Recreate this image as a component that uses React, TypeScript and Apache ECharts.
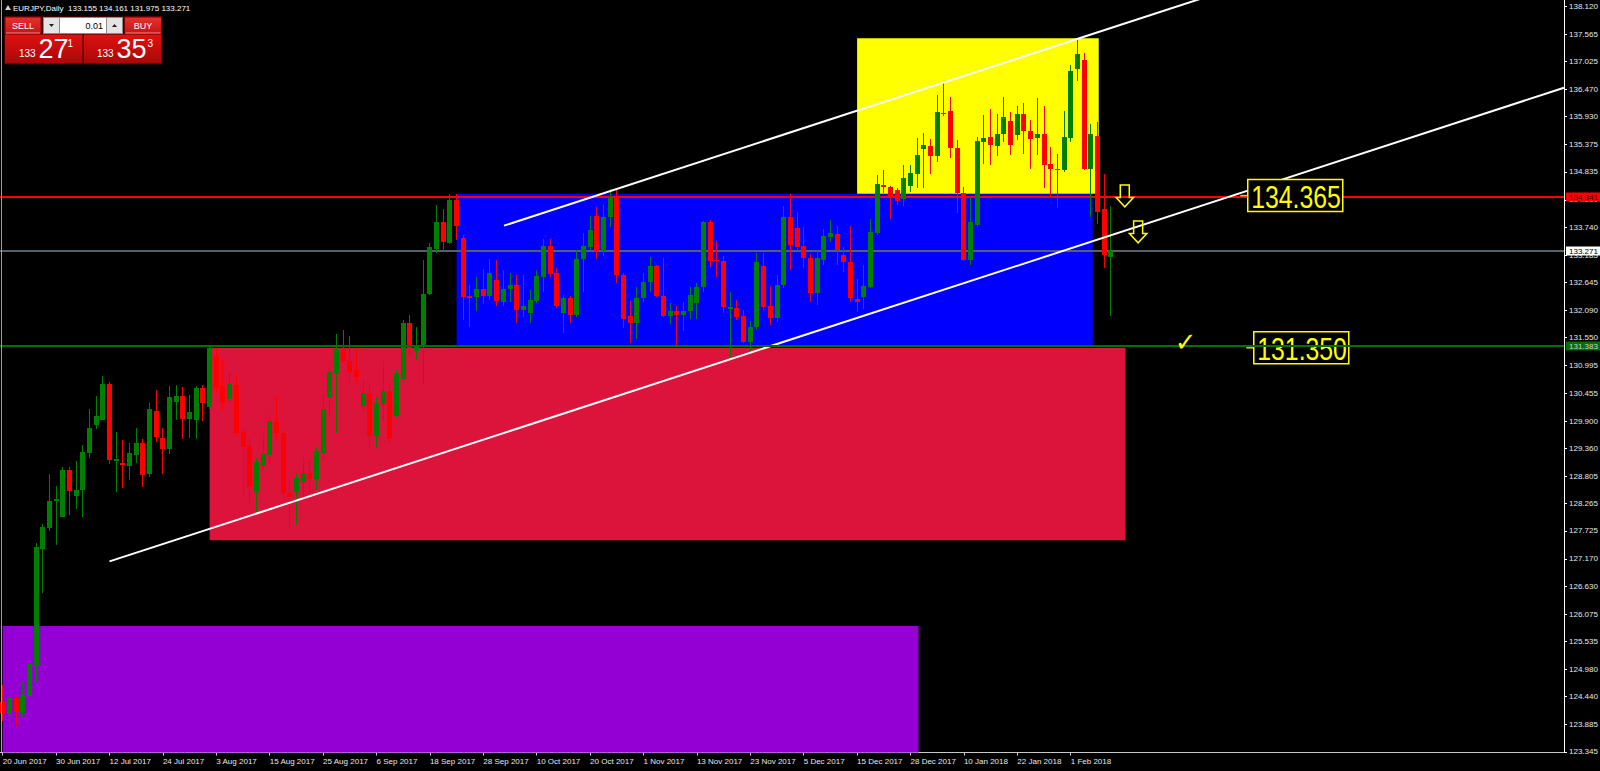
import React, { useEffect, useRef } from "react";
import * as echarts from "echarts";

// ---- instrument -----------------------------------------------------------
const SYMBOL = "EURJPY,Daily";
const ASK = 133.353;
const LOT = "0.01";

// ---- daily bars, index 0 = 20 Jun 2017 … index 166 = 9 Feb 2018 ----------
const OPEN = [
  124.34, 124.09, 124.41, 124.12, 124.45, 125.07, 127.36, 127.78, 128.32, 127.99,
  128.93, 128.42, 128.53, 129.26, 129.82, 129.93, 130.63, 129.10, 129.06, 129.01,
  129.23, 129.46, 128.86, 130.10, 129.57, 129.34, 130.28, 130.40, 129.95, 129.93,
  130.55, 130.17, 131.19, 130.59, 130.33, 130.61, 129.69, 129.41, 128.50, 129.00,
  129.23, 129.89, 129.67, 128.48, 128.50, 128.70, 128.88, 128.75, 129.26, 130.38,
  130.85, 131.33, 131.09, 130.92, 130.19, 130.45, 129.60, 130.24, 130.50, 129.99,
  130.73, 131.84, 131.29, 131.36, 132.41, 133.31, 133.85, 133.42, 134.28, 133.53,
  132.38, 132.35, 132.51, 132.38, 132.69, 132.26, 132.51, 132.59, 132.09, 132.03,
  132.28, 132.75, 133.37, 132.83, 132.03, 132.34, 132.00, 133.10, 133.34, 133.97,
  133.27, 133.94, 134.34, 132.79, 131.99, 131.85, 132.33, 132.65, 132.97, 132.38,
  131.99, 132.08, 132.00, 132.07, 132.24, 132.55, 133.84, 133.09, 133.07, 132.11,
  132.13, 131.98, 131.47, 131.77, 132.98, 132.17, 131.95, 132.60, 133.95, 133.72,
  133.37, 133.12, 132.43, 133.09, 133.55, 133.60, 133.19, 133.04, 132.32, 132.36,
  132.56, 133.62, 134.58, 134.54, 134.48, 134.30, 134.56, 134.79, 135.28, 135.35,
  135.14, 136.01, 136.04, 135.30, 134.41, 133.09, 133.78, 135.42, 135.53, 135.35,
  135.58, 135.85, 135.57, 135.98, 135.65, 135.50, 135.59, 135.00, 134.90, 134.87,
  135.50, 136.87, 137.05, 134.89, 135.55, 134.09, 133.155,
];
const HIGH = [
  124.67, 124.45, 124.45, 124.74, 125.17, 127.49, 127.87, 128.85, 128.61, 128.98,
  128.98, 129.10, 129.43, 130.13, 130.40, 130.79, 130.68, 129.68, 129.53, 129.47,
  129.76, 129.54, 130.26, 130.52, 129.77, 130.59, 130.61, 130.58, 130.42, 130.59,
  130.61, 131.37, 131.34, 131.11, 130.88, 130.81, 129.74, 129.56, 129.16, 129.66,
  130.03, 130.40, 129.69, 128.77, 128.88, 129.19, 129.13, 129.39, 130.45, 130.98,
  131.62, 131.70, 131.59, 131.34, 130.73, 130.63, 130.38, 131.09, 130.66, 130.91,
  131.90, 132.01, 131.76, 133.09, 133.42, 134.18, 134.09, 134.40, 134.40, 133.59,
  132.59, 132.76, 132.91, 133.10, 133.09, 132.89, 132.84, 132.79, 132.79, 132.50,
  132.89, 133.50, 133.50, 132.94, 132.40, 132.38, 133.29, 133.62, 133.96, 134.13,
  134.18, 134.49, 134.48, 132.84, 132.28, 132.56, 132.84, 133.14, 133.00, 133.12,
  132.23, 132.18, 132.26, 132.56, 132.64, 133.86, 133.88, 133.47, 133.17, 132.46,
  132.30, 132.10, 131.89, 133.22, 133.22, 132.58, 132.79, 134.15, 134.39, 134.05,
  133.75, 133.20, 133.26, 133.70, 133.88, 133.76, 133.35, 133.76, 132.71, 133.00,
  133.90, 134.77, 134.87, 134.56, 134.51, 134.97, 134.97, 135.50, 135.61, 135.49,
  136.36, 136.62, 136.31, 135.47, 134.54, 134.32, 135.53, 135.96, 136.09, 135.98,
  136.31, 136.03, 136.14, 136.19, 135.86, 136.29, 136.13, 135.32, 135.19, 136.04,
  136.95, 137.49, 137.18, 135.78, 135.83, 134.79, 134.161,
];
const LOW = [
  123.95, 123.68, 123.85, 124.03, 124.41, 124.74, 126.49, 127.73, 127.45, 127.99,
  128.04, 128.15, 127.99, 129.16, 129.74, 129.93, 129.05, 128.50, 128.58, 128.73,
  129.06, 128.59, 128.79, 129.49, 128.86, 129.25, 129.92, 129.54, 129.56, 129.54,
  129.90, 130.13, 130.46, 130.11, 130.28, 129.60, 128.44, 128.24, 128.07, 128.93,
  129.06, 129.53, 128.37, 127.78, 127.84, 128.34, 128.47, 128.53, 129.12, 129.97,
  129.66, 131.05, 130.68, 130.68, 130.09, 129.39, 129.36, 129.91, 129.46, 129.97,
  130.66, 131.21, 131.10, 130.61, 132.40, 133.22, 133.26, 133.40, 133.49, 131.91,
  131.76, 132.07, 132.24, 132.30, 132.17, 132.17, 132.25, 131.84, 131.97, 131.85,
  132.23, 132.45, 132.76, 132.13, 131.65, 131.84, 131.97, 132.46, 133.29, 133.10,
  133.17, 133.75, 132.64, 131.74, 131.44, 131.52, 132.26, 132.46, 132.36, 131.97,
  131.82, 131.41, 131.69, 131.93, 131.93, 132.46, 132.96, 132.75, 132.03, 131.14,
  131.90, 131.44, 131.27, 131.70, 132.09, 131.80, 131.86, 132.53, 132.89, 133.26,
  132.93, 132.25, 132.20, 133.00, 133.45, 132.99, 132.85, 132.25, 132.05, 132.12,
  132.53, 133.59, 134.41, 133.90, 134.18, 134.16, 134.44, 134.51, 134.52, 134.79,
  135.04, 135.95, 135.10, 134.03, 133.06, 133.00, 133.75, 135.00, 134.97, 135.14,
  135.43, 135.17, 135.47, 135.18, 134.89, 135.17, 134.51, 134.31, 134.11, 134.84,
  135.42, 136.64, 134.87, 133.95, 133.80, 132.94, 131.975,
];
const CLOSE = [
  124.11, 124.41, 124.14, 124.47, 125.09, 127.40, 127.80, 128.32, 128.36, 128.93,
  128.52, 128.53, 129.29, 129.77, 130.00, 130.63, 129.12, 129.14, 129.02, 129.27,
  129.46, 128.83, 130.13, 129.59, 129.34, 130.38, 130.40, 129.95, 130.07, 130.55,
  130.25, 131.34, 130.56, 130.26, 130.63, 129.66, 129.39, 128.60, 129.08, 129.24,
  129.90, 129.66, 128.47, 128.40, 128.78, 128.88, 128.75, 129.31, 130.13, 130.88,
  131.33, 131.08, 130.88, 130.78, 130.45, 129.60, 130.25, 130.50, 129.54, 130.86,
  131.84, 131.34, 131.37, 132.41, 133.35, 133.84, 133.45, 134.28, 133.76, 132.35,
  132.34, 132.51, 132.38, 132.83, 132.28, 132.51, 132.59, 132.09, 132.18, 132.30,
  132.77, 133.37, 132.81, 132.17, 132.33, 132.00, 133.10, 133.37, 133.68, 133.27,
  133.94, 134.34, 132.79, 131.92, 131.85, 132.33, 132.66, 132.97, 132.38, 131.99,
  132.08, 132.00, 132.08, 132.40, 132.56, 133.84, 133.07, 133.06, 132.15, 132.15,
  131.97, 131.47, 131.77, 133.04, 132.15, 131.95, 132.60, 133.95, 133.39, 133.35,
  133.12, 132.44, 133.12, 133.57, 133.62, 133.29, 133.04, 132.34, 132.26, 132.58,
  133.64, 134.59, 134.54, 134.32, 134.25, 134.71, 134.81, 135.16, 135.37, 135.14,
  136.03, 135.98, 135.30, 134.41, 133.09, 133.85, 135.45, 135.50, 135.37, 135.58,
  135.92, 135.37, 135.98, 135.65, 135.49, 135.59, 134.97, 134.89, 134.88, 135.52,
  136.83, 137.16, 134.89, 135.58, 134.05, 133.18, 133.271,
];

// ---- axes -----------------------------------------------------------------
const DATE_TICKS = [0, 8, 16, 24, 32, 40, 48, 56, 64, 72, 80, 88, 96, 104, 112, 120, 128, 136, 144, 152, 160];
const DATE_LABELS = [
  "20 Jun 2017", "30 Jun 2017", "12 Jul 2017", "24 Jul 2017", "3 Aug 2017", "15 Aug 2017",
  "25 Aug 2017", "6 Sep 2017", "18 Sep 2017", "28 Sep 2017", "10 Oct 2017", "20 Oct 2017",
  "1 Nov 2017", "13 Nov 2017", "23 Nov 2017", "5 Dec 2017", "15 Dec 2017", "28 Dec 2017",
  "10 Jan 2018", "22 Jan 2018", "1 Feb 2018",
];
const PRICE_TICKS = [
  138.12, 137.565, 137.025, 136.47, 135.93, 135.375, 134.835, 134.28, 133.74, 133.185,
  132.645, 132.09, 131.55, 130.995, 130.455, 129.9, 129.36, 128.805, 128.265, 127.725,
  127.17, 126.63, 126.075, 125.535, 124.98, 124.44, 123.885, 123.345,
];

// visible window (bars / price)
const X_MIN = -0.405;
const X_MAX = 233.9;
const Y_MIN = 123.333;
const Y_MAX = 138.239;

// ---- drawn objects ----------------------------------------------------------
const ZONE_COLOR = ["#9400d3", "#dc143c", "#0000ff", "#ffff00"];
const ZONE_FROM = [0, 31, 68, 128];
const ZONE_TO = [137.2, 168.2, 163.3, 164.2];
const ZONE_LOW = [120.0, 127.54, 131.4, 134.4];
const ZONE_HIGH = [125.84, 131.35, 134.4, 137.48];

const LOWER_TREND = [[16, 127.12], [160, 133.32]];
const UPPER_TREND = [[75.1, 133.77], [161.5, 137.49]];

const RESISTANCE = 134.341;
const SUPPORT = 131.383;

const LEVEL_TAGS = [[185.4, 134.365], [186.3, 131.35]];
const DOWN_ARROWS = [[168.1, 134.575], [170.1, 133.862]];
const CHECK_MARK = [[177.2, 131.47]];

const BULL = "#008000";
const BEAR = "#ff0000";
const AXIS_TEXT = "#e8e8e8";
const FONT = "Liberation Sans";

const BID = CLOSE[CLOSE.length - 1];

function ray(a: number[], b: number[], xEnd: number) {
  const k = (b[1] - a[1]) / (b[0] - a[0]);
  return [a, [xEnd, a[1] + k * (xEnd - a[0])]];
}

function splitQuote(v: number) {
  const s = v.toFixed(3);
  const [big, frac] = s.split(".");
  return { big, mid: frac.slice(0, 2), pip: frac.slice(2) };
}

// full-width horizontal price line with its price box on the right scale
function priceLineSeries(prices: number[], lines: string[], boxes: string[], texts: string[], z: number) {
  return {
    type: "custom",
    z,
    silent: true,
    data: prices.map((p) => [0, p]),
    renderItem: (params: any, api: any) => {
      const cs = params.coordSys;
      const v = api.value(1) as number;
      const y = Math.round(api.coord([0, v])[1]);
      const k = params.dataIndex;
      const right = cs.x + cs.width;
      return {
        type: "group",
        children: [
          { type: "line", shape: { x1: cs.x, y1: y, x2: right, y2: y }, style: { stroke: lines[k], lineWidth: 2 } },
          { type: "rect", shape: { x: right + 2, y: y - 4.5, width: 34, height: 9 }, style: { fill: boxes[k] } },
          {
            type: "text",
            x: right + 5,
            y: y,
            style: { text: v.toFixed(3), fill: texts[k], fontSize: 8, fontFamily: FONT, verticalAlign: "middle", align: "left" },
          },
        ],
      };
    },
  };
}

function buildOption() {
  const candles = OPEN.map((o, i) => [i, o, CLOSE[i], LOW[i], HIGH[i]]);
  const zones = ZONE_FROM.map((f, k) => [f, ZONE_TO[k], ZONE_LOW[k], ZONE_HIGH[k]]);
  const last = OPEN.length - 1;
  const title = `${SYMBOL}  ${OPEN[last].toFixed(3)} ${HIGH[last].toFixed(3)} ${LOW[last].toFixed(3)} ${CLOSE[last].toFixed(3)}`;
  const bid = splitQuote(BID);
  const ask = splitQuote(ASK);

  const btnGrad = () =>
    new echarts.graphic.LinearGradient(0, 0, 0, 1, [
      { offset: 0, color: "#e83030" },
      { offset: 1, color: "#c41414" },
    ]);
  const quoteGrad = () =>
    new echarts.graphic.LinearGradient(0, 0, 0, 1, [
      { offset: 0, color: "#e01010" },
      { offset: 1, color: "#a80808" },
    ]);
  const white = (text: string, x: number, y: number, size: number, align = "left") => ({
    type: "text",
    x,
    y,
    z: 101,
    style: { text, fill: "#ffffff", fontSize: size, fontFamily: FONT, align, verticalAlign: "middle" },
  });

  const graphic: any[] = [
    { type: "line", z: 50, shape: { x1: 1.5, y1: 0, x2: 1.5, y2: 752 }, style: { stroke: "#a0a0a0", lineWidth: 1 } },
    { type: "polygon", z: 100, shape: { points: [[5, 10], [8, 5], [11, 10]] }, style: { fill: "#d0d0d0" } },
    white(title, 13, 8.5, 8),
    // one-click trading panel
    { type: "rect", z: 100, shape: { x: 4, y: 16, width: 158.5, height: 48.5 }, style: { fill: "#3a0000" } },
    { type: "rect", z: 100, shape: { x: 5, y: 17, width: 36, height: 17 }, style: { fill: btnGrad(), stroke: "#7a0000", lineWidth: 1 } },
    { type: "line", z: 101, shape: { x1: 6, y1: 33, x2: 40, y2: 33 }, style: { stroke: "#f08a8a", lineWidth: 1 } },
    white("SELL", 23, 25.5, 9, "center"),
    { type: "rect", z: 100, shape: { x: 124.5, y: 17, width: 37, height: 17 }, style: { fill: btnGrad(), stroke: "#7a0000", lineWidth: 1 } },
    { type: "line", z: 101, shape: { x1: 125.5, y1: 33, x2: 160.5, y2: 33 }, style: { stroke: "#f08a8a", lineWidth: 1 } },
    white("BUY", 143, 25.5, 9, "center"),
    { type: "rect", z: 100, shape: { x: 43.5, y: 17.5, width: 79, height: 16 }, style: { fill: "#ffffff", stroke: "#8a8a8a", lineWidth: 1 } },
    { type: "rect", z: 101, shape: { x: 43.5, y: 17.5, width: 16, height: 16 }, style: { fill: "#e4e4e4", stroke: "#8a8a8a", lineWidth: 1 } },
    { type: "rect", z: 101, shape: { x: 106.5, y: 17.5, width: 16, height: 16 }, style: { fill: "#e4e4e4", stroke: "#8a8a8a", lineWidth: 1 } },
    { type: "polygon", z: 102, shape: { points: [[49, 24], [54, 24], [51.5, 27]] }, style: { fill: "#202020" } },
    { type: "polygon", z: 102, shape: { points: [[112, 27], [117, 27], [114.5, 24]] }, style: { fill: "#202020" } },
    {
      type: "text",
      x: 103,
      y: 25.5,
      z: 102,
      style: { text: LOT, fill: "#000000", fontSize: 9, fontFamily: FONT, align: "right", verticalAlign: "middle" },
    },
    { type: "rect", z: 100, shape: { x: 5, y: 34.5, width: 77.5, height: 29 }, style: { fill: quoteGrad() } },
    { type: "rect", z: 100, shape: { x: 84, y: 34.5, width: 77.5, height: 29 }, style: { fill: quoteGrad() } },
    white(bid.big, 19, 53.3, 10),
    white(bid.mid, 38.5, 48.8, 27),
    white(bid.pip, 67.5, 43.3, 10),
    white(ask.big, 97, 53.3, 10),
    white(ask.mid, 116.5, 48.8, 27),
    white(ask.pip, 147.5, 43.3, 10),
  ];

  return {
    animation: false,
    backgroundColor: "#000000",
    grid: {
      left: 0,
      top: 0,
      width: 1564,
      height: 752.6,
      containLabel: false,
      outerBoundsMode: "none",
    },
    xAxis: {
      type: "value",
      min: X_MIN,
      max: X_MAX,
      splitLine: { show: false },
      axisLine: { show: true, onZero: false, lineStyle: { color: "#c8c8c8", width: 1 } },
      axisTick: { show: true, customValues: DATE_TICKS, length: 3, lineStyle: { color: "#c8c8c8" } },
      axisLabel: {
        customValues: DATE_TICKS,
        formatter: (v: number) => DATE_LABELS[Math.round(v / 8)] ?? "",
        align: "left",
        margin: 5,
        color: AXIS_TEXT,
        fontSize: 8,
        fontFamily: FONT,
      },
    },
    yAxis: {
      type: "value",
      position: "right",
      min: Y_MIN,
      max: Y_MAX,
      splitLine: { show: false },
      axisLine: { show: true, onZero: false, lineStyle: { color: "#ffffff", width: 1 } },
      axisTick: { show: true, customValues: PRICE_TICKS, length: 3, lineStyle: { color: "#ffffff" } },
      axisLabel: {
        customValues: PRICE_TICKS,
        formatter: (v: number) => v.toFixed(3),
        margin: 5,
        color: AXIS_TEXT,
        fontSize: 8,
        fontFamily: FONT,
      },
    },
    graphic,
    series: [
      {
        type: "custom",
        name: "zones",
        z: 1,
        silent: true,
        data: zones,
        encode: { x: [0, 1], y: [2, 3] },
        renderItem: (params: any, api: any) => {
          const cs = params.coordSys;
          const a = api.coord([api.value(0), api.value(3)]);
          const b = api.coord([api.value(1), api.value(2)]);
          const x0 = Math.max(a[0], cs.x);
          const x1 = Math.min(b[0], cs.x + cs.width);
          const y0 = Math.max(a[1], cs.y);
          const y1 = Math.min(b[1], cs.y + cs.height);
          return {
            type: "rect",
            shape: { x: x0, y: y0, width: x1 - x0, height: y1 - y0 },
            style: { fill: ZONE_COLOR[params.dataIndex] },
          };
        },
      },
      priceLineSeries([RESISTANCE, BID], ["#ff0000", "#56606a"], ["#ff0000", "#ffffff"], ["#300000", "#000000"], 2),
      {
        type: "custom",
        name: SYMBOL,
        z: 3,
        silent: true,
        data: candles,
        encode: { x: 0, y: [1, 2, 3, 4] },
        renderItem: (_params: any, api: any) => {
          const i = api.value(0);
          const o = api.value(1);
          const c = api.value(2);
          const l = api.value(3);
          const h = api.value(4);
          const top = api.coord([i, Math.max(o, c)]);
          const bot = api.coord([i, Math.min(o, c)]);
          const hi = api.coord([i, h]);
          const lo = api.coord([i, l]);
          const cx = Math.floor(top[0]);
          const color = c >= o ? BULL : BEAR;
          const y0 = Math.round(top[1]);
          const y1 = Math.max(Math.round(bot[1]), y0 + 1);
          const wy0 = Math.round(hi[1]);
          const wy1 = Math.max(Math.round(lo[1]), wy0 + 1);
          return {
            type: "group",
            children: [
              { type: "rect", shape: { x: cx, y: wy0, width: 1, height: wy1 - wy0 }, style: { fill: color } },
              { type: "rect", shape: { x: cx - 2, y: y0, width: 5, height: y1 - y0 }, style: { fill: color } },
            ],
          };
        },
      },
      {
        type: "line",
        name: "lower channel",
        z: 4,
        silent: true,
        symbol: "none",
        data: ray(LOWER_TREND[0], LOWER_TREND[1], X_MAX),
        lineStyle: { color: "#ffffff", width: 2 },
      },
      {
        type: "line",
        name: "upper channel",
        z: 4,
        silent: true,
        symbol: "none",
        data: ray(UPPER_TREND[0], UPPER_TREND[1], X_MAX),
        lineStyle: { color: "#ffffff", width: 2 },
      },
      {
        type: "custom",
        name: "level tags",
        z: 5,
        silent: true,
        data: LEVEL_TAGS,
        renderItem: (_params: any, api: any) => {
          const v = api.value(1) as number;
          const p = api.coord([api.value(0), v]);
          const x = p[0];
          const y = p[1];
          return {
            type: "group",
            children: [
              { type: "line", shape: { x1: x, y1: y, x2: x + 8, y2: y }, style: { stroke: "#d8d800", lineWidth: 1.5 } },
              {
                type: "rect",
                shape: { x: x + 7.5, y: y - 16, width: 95, height: 32 },
                style: { fill: "#000000", stroke: "#ffff00", lineWidth: 1.5 },
              },
              {
                type: "text",
                x: x + 11,
                y: y + 2,
                scaleX: 0.8,
                style: {
                  text: v.toFixed(3),
                  fill: "#ffff00",
                  fontSize: 31,
                  fontFamily: FONT,
                  align: "left",
                  verticalAlign: "middle",
                },
              },
            ],
          };
        },
      },
      priceLineSeries([SUPPORT], ["#007000"], ["#007000"], ["#d0d0d0"], 6),
      {
        type: "custom",
        name: "arrows",
        z: 7,
        silent: true,
        data: DOWN_ARROWS,
        renderItem: (_params: any, api: any) => {
          const p = api.coord([api.value(0), api.value(1)]);
          const x = p[0];
          const y = p[1];
          const pts = [
            [x - 4.5, y],
            [x + 4.5, y],
            [x + 4.5, y + 12.5],
            [x + 8.7, y + 12.5],
            [x, y + 21.8],
            [x - 8.7, y + 12.5],
            [x - 4.5, y + 12.5],
          ];
          return { type: "polygon", shape: { points: pts }, style: { fill: "none", stroke: "#ffff00", lineWidth: 1.5 } };
        },
      },
      {
        type: "custom",
        name: "check",
        z: 7,
        silent: true,
        data: CHECK_MARK,
        renderItem: (_params: any, api: any) => {
          const p = api.coord([api.value(0), api.value(1)]);
          return {
            type: "text",
            x: p[0],
            y: p[1],
            style: {
              text: "\u2713",
              fill: "#ffff00",
              fontSize: 26,
              fontFamily: "DejaVu Sans",
              align: "center",
              verticalAlign: "middle",
            },
          };
        },
      },
    ],
  };
}

export default function App() {
  const ref = useRef<HTMLDivElement>(null);
  useEffect(() => {
    const el = ref.current;
    if (!el) return;
    const chart = echarts.init(el, null, { renderer: "svg" });
    chart.setOption(buildOption() as any);
    return () => chart.dispose();
  }, []);
  return (
    <div
      ref={ref}
      style={{ position: "fixed", left: 0, top: 0, width: 1600, height: 771, background: "#000000" }}
    />
  );
}
